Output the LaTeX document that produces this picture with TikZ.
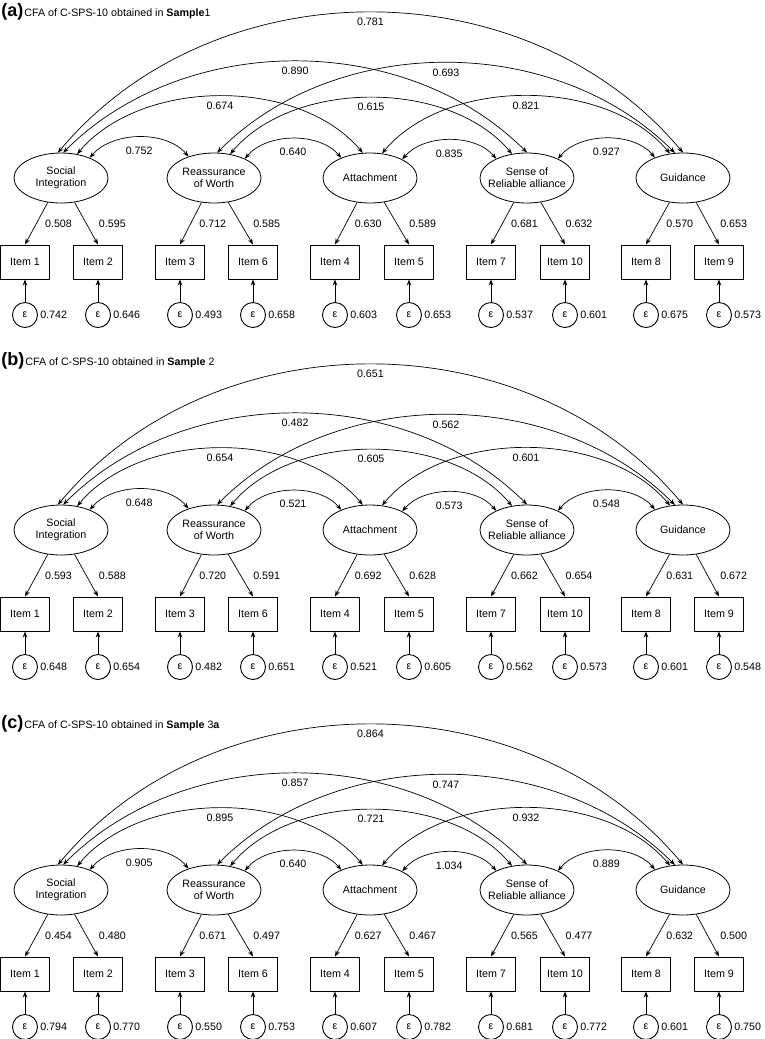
\documentclass[tikz,border=0pt]{standalone}
\usepackage{fontspec}
\setmainfont{Liberation Sans}
\usetikzlibrary{arrows.meta,positioning,shapes.geometric}

\begin{document}
\begin{tikzpicture}[x=1pt,y=1pt,font=\fontsize{10.7}{12}\selectfont,line width=0.7pt]
\tikzstyle{factor}=[ellipse,draw,line width=0.8pt,minimum width=94pt,minimum height=50pt,inner xsep=-12pt,inner ysep=0pt,align=center]
\tikzstyle{indicator}=[rectangle,draw,line width=1pt,minimum width=49pt,minimum height=34pt,inner sep=0pt]
\tikzstyle{errnode}=[circle,draw,line width=0.9pt,minimum size=25pt,inner sep=0pt]
\tikzstyle{load}=[-{Stealth[length=6pt,width=4.5pt]}]
\tikzstyle{cov}=[{Stealth[length=6pt,width=4.5pt]}-{Stealth[length=6pt,width=4.5pt]}]
\tikzstyle{far4}=[cov,out=50,in=130,looseness=1]
\tikzstyle{far3}=[cov,out=45,in=135,looseness=0.95]
\tikzstyle{far2}=[cov,out=50,in=130,looseness=0.89]
\tikzstyle{near}=[cov,out=50,in=130,looseness=0.9]
\tikzstyle{clab}=[midway,below=2pt]
\tikzstyle{nlab}=[midway,below=6pt]
\tikzstyle{head}=[anchor=base west,inner sep=0pt]

\useasboundingbox (0,0) rectangle (765,-1039);

% same model in the three panels
\foreach \p/\dy in {a/0,b/352,c/712}{
  \foreach \f/\x/\txt in {1/61/{Social\\Integration},2/214/{Reassurance\\of Worth},3/370/Attachment,4/527/{Sense of\\Reliable alliance},5/683/Guidance}
    \node[factor] (\p\f) at (\x,-178-\dy) {\txt};
  \foreach \i/\x/\txt in {1/25/Item 1,2/98/Item 2,3/180/Item 3,4/253/Item 6,5/335/Item 4,6/409/Item 5,7/491/Item 7,8/565/Item 10,9/646/Item 8,10/719/Item 9}{
    \node[indicator] (\p i\i) at (\x,-262-\dy) {\txt};
    \node[errnode] (\p e\i) at (\x,-315-\dy) {ε};
    \draw[load] (\p e\i) -- (\p i\i);
  }
}

% (a)
\node[head] (ahead) at (1,-16) {\fontsize{18}{18}\selectfont\bfseries(a)\hspace{1pt}\fontsize{10.7}{12}\selectfont\mdseries CFA of C-SPS-10 obtained in \textbf{Sample}1};
\foreach \v [count=\i] in {0.508,0.595,0.712,0.585,0.630,0.589,0.681,0.632,0.570,0.653}{
  \pgfmathtruncatemacro\f{(\i+1)/2}
  \pgfmathsetmacro\sh{isodd(\i) ? 5 : 9}
  \draw[load] (a\f) -- (ai\i.north) node[midway,anchor=west,xshift=\sh pt] (al\i) {\v};
}
\foreach \v [count=\i] in {0.742,0.646,0.493,0.658,0.603,0.653,0.537,0.601,0.675,0.573}
  \node[right=1pt of ae\i,inner sep=1pt] (aev\i) {\v};
\path
  (a1.97) edge[far4] node[clab] (ac1) {0.781} (a5.90)
  (a1.85) edge[far3] node[clab] (ac2) {0.890} (a4.90)
  (a2.83) edge[far3] node[clab] (ac3) {0.693} (a5.108)
  (a1.56) edge[far2] node[clab] (ac4) {0.674} (a3.106)
  (a2.56) edge[far2] node[clab] (ac5) {0.615} (a4.122)
  (a3.64) edge[far2] node[clab] (ac6) {0.821} (a5.118)
  (a1.35) edge[near] node[nlab] (ac7) {0.752} (a2.140)
  (a2.32) edge[near] node[nlab] (ac8) {0.640} (a3.145)
  (a3.30) edge[near] node[nlab] (ac9) {0.835} (a4.148)
  (a4.32) edge[near] node[nlab] (ac10) {0.927} (a5.144);

% (b)
\node[head] (bhead) at (1,-365) {\fontsize{18}{18}\selectfont\bfseries(b)\hspace{1pt}\fontsize{10.7}{12}\selectfont\mdseries CFA of C-SPS-10 obtained in \textbf{Sample} 2};
\foreach \v [count=\i] in {0.593,0.588,0.720,0.591,0.692,0.628,0.662,0.654,0.631,0.672}{
  \pgfmathtruncatemacro\f{(\i+1)/2}
  \pgfmathsetmacro\sh{isodd(\i) ? 5 : 9}
  \draw[load] (b\f) -- (bi\i.north) node[midway,anchor=west,xshift=\sh pt] (bl\i) {\v};
}
\foreach \v [count=\i] in {0.648,0.654,0.482,0.651,0.521,0.605,0.562,0.573,0.601,0.548}
  \node[right=1pt of be\i,inner sep=1pt] (bev\i) {\v};
\path
  (b1.97) edge[far4] node[clab] (bc1) {0.651} (b5.90)
  (b1.85) edge[far3] node[clab] (bc2) {0.482} (b4.90)
  (b2.83) edge[far3] node[clab] (bc3) {0.562} (b5.108)
  (b1.56) edge[far2] node[clab] (bc4) {0.654} (b3.106)
  (b2.56) edge[far2] node[clab] (bc5) {0.605} (b4.122)
  (b3.64) edge[far2] node[clab] (bc6) {0.601} (b5.118)
  (b1.35) edge[near] node[nlab] (bc7) {0.648} (b2.140)
  (b2.32) edge[near] node[nlab] (bc8) {0.521} (b3.145)
  (b3.30) edge[near] node[nlab] (bc9) {0.573} (b4.148)
  (b4.32) edge[near] node[nlab] (bc10) {0.548} (b5.144);

% (c)
\node[head] (chead) at (1,-728) {\fontsize{18}{18}\selectfont\bfseries(c)\hspace{1pt}\fontsize{10.7}{12}\selectfont\mdseries CFA of C-SPS-10 obtained in \textbf{Sample} 3\textbf{a}};
\foreach \v [count=\i] in {0.454,0.480,0.671,0.497,0.627,0.467,0.565,0.477,0.632,0.500}{
  \pgfmathtruncatemacro\f{(\i+1)/2}
  \pgfmathsetmacro\sh{isodd(\i) ? 5 : 9}
  \draw[load] (c\f) -- (ci\i.north) node[midway,anchor=west,xshift=\sh pt] (cl\i) {\v};
}
\foreach \v [count=\i] in {0.794,0.770,0.550,0.753,0.607,0.782,0.681,0.772,0.601,0.750}
  \node[right=1pt of ce\i,inner sep=1pt] (cev\i) {\v};
\path
  (c1.97) edge[far4] node[clab] (cc1) {0.864} (c5.90)
  (c1.85) edge[far3] node[clab] (cc2) {0.857} (c4.90)
  (c2.83) edge[far3] node[clab] (cc3) {0.747} (c5.108)
  (c1.56) edge[far2] node[clab] (cc4) {0.895} (c3.106)
  (c2.56) edge[far2] node[clab] (cc5) {0.721} (c4.122)
  (c3.64) edge[far2] node[clab] (cc6) {0.932} (c5.118)
  (c1.35) edge[near] node[nlab] (cc7) {0.905} (c2.140)
  (c2.32) edge[near] node[nlab] (cc8) {0.640} (c3.145)
  (c3.30) edge[near] node[nlab] (cc9) {1.034} (c4.148)
  (c4.32) edge[near] node[nlab] (cc10) {0.889} (c5.144);
\end{tikzpicture}
\end{document}
